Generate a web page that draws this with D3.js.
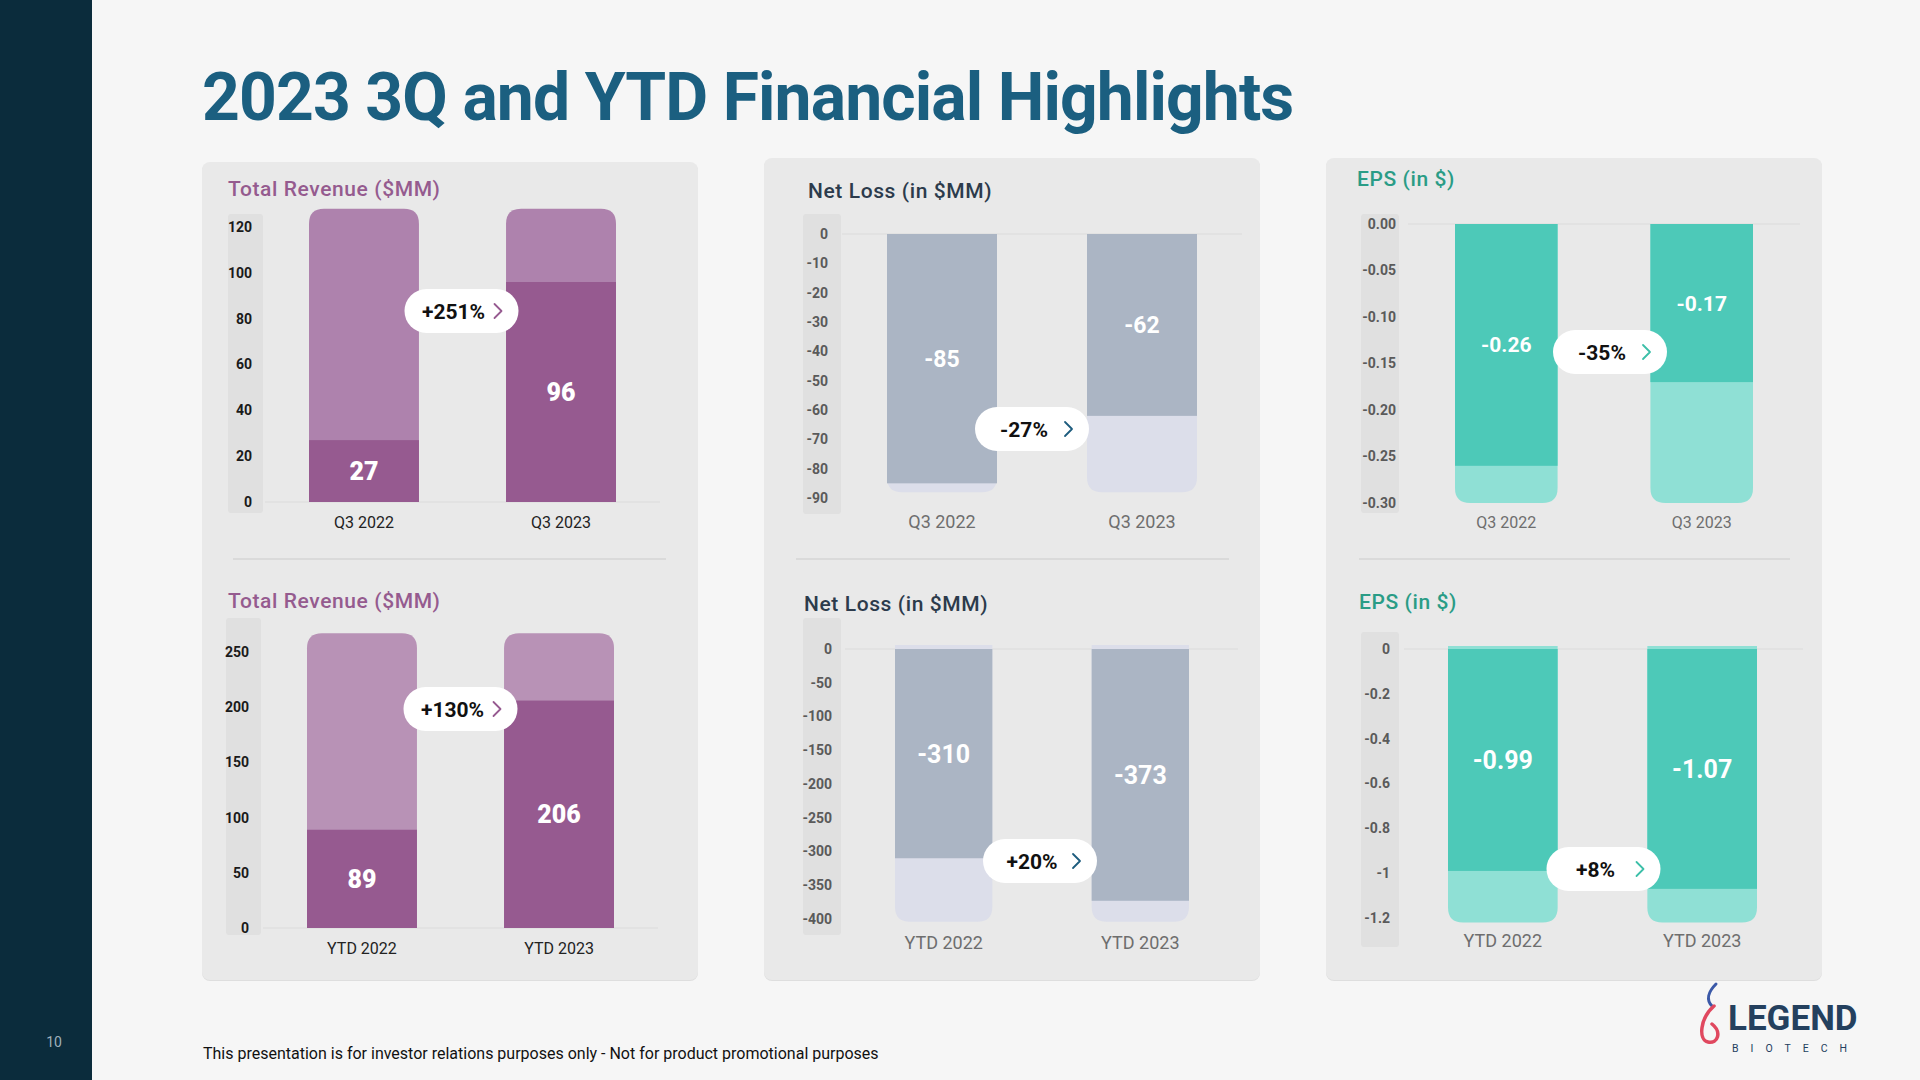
<!DOCTYPE html>
<html>
<head>
<meta charset="utf-8">
<script src="https://cdn.jsdelivr.net/npm/d3@7"></script>
<style>
  html, body { margin: 0; padding: 0; background: #f6f6f6; }
  svg { display: block; font-family: Roboto, "Noto Sans", sans-serif; }
</style>
</head>
<body>
<svg id="chart" width="1920" height="1080"></svg>
<script>
// ---------------- DATA ----------------
const revQCats = ["Q3 2022", "Q3 2023"];
const revQValues = [27, 96];
const revQBg = [128, 128];
const revQTicks = [0, 20, 40, 60, 80, 100, 120];
const revQChange = "+251%";

const revYCats = ["YTD 2022", "YTD 2023"];
const revYValues = [89, 206];
const revYBg = [267, 267];
const revYTicks = [0, 50, 100, 150, 200, 250];
const revYChange = "+130%";

const lossQCats = ["Q3 2022", "Q3 2023"];
const lossQValues = [-85, -62];
const lossQBg = [-88, -88];
const lossQTicks = [0, -10, -20, -30, -40, -50, -60, -70, -80, -90];
const lossQChange = "-27%";

const lossYCats = ["YTD 2022", "YTD 2023"];
const lossYValues = [-310, -373];
const lossYBg = [-404, -404];
const lossYTicks = [0, -50, -100, -150, -200, -250, -300, -350, -400];
const lossYChange = "+20%";

const epsQCats = ["Q3 2022", "Q3 2023"];
const epsQValues = [-0.26, -0.17];
const epsQBg = [-0.30, -0.30];
const epsQTicks = [0, -0.05, -0.10, -0.15, -0.20, -0.25, -0.30];
const epsQChange = "-35%";

const epsYCats = ["YTD 2022", "YTD 2023"];
const epsYValues = [-0.99, -1.07];
const epsYBg = [-1.22, -1.22];
const epsYTicks = [0, -0.2, -0.4, -0.6, -0.8, -1, -1.2];
const epsYChange = "+8%";

// ---------------- STYLE / LAYOUT ----------------
const PURPLE = "#965a90", PURPLE_BG1 = "#ae82ad", PURPLE_BG2 = "#b892b6";
const SLATE = "#abb5c4", SLATE_BG = "#dcdeea";
const TEAL = "#4dc9b8", TEAL_BG = "#8fe0d5";

const svg = d3.select("#chart");

// background + sidebar
svg.append("rect").attr("width", 1920).attr("height", 1080).attr("fill", "#f6f6f6");
svg.append("rect").attr("width", 92).attr("height", 1080).attr("fill", "#0b2c3c");
svg.append("text").attr("x", 54).attr("y", 1047).attr("text-anchor", "middle")
  .attr("font-size", 14).attr("fill", "#9fb0bb").text("10");

// title
svg.append("text").attr("x", 202).attr("y", 120)
  .attr("font-size", 66).attr("font-weight", 700).attr("fill", "#1b5f80")
  .attr("letter-spacing", -0.9)
  .text("2023 3Q and YTD Financial Highlights");

// panels
const panels = [
  {x: 202, y: 162, w: 496, h: 818, line: [233, 666]},
  {x: 764, y: 158, w: 496, h: 822, line: [796, 1229]},
  {x: 1326, y: 158, w: 496, h: 822, line: [1359, 1790]}
];
panels.forEach(p => {
  svg.append("rect").attr("x", p.x).attr("y", p.y + 1).attr("width", p.w).attr("height", p.h)
    .attr("rx", 8).attr("fill", "#dedede");
  svg.append("rect").attr("x", p.x).attr("y", p.y).attr("width", p.w).attr("height", p.h)
    .attr("rx", 8).attr("fill", "#e9e9e9");
  svg.append("line").attr("x1", p.line[0]).attr("x2", p.line[1]).attr("y1", 559).attr("y2", 559)
    .attr("stroke", "#d4d4d4").attr("stroke-width", 1.5);
});

function barPath(x, w, yBase, yEnd, r) {
  const dir = yEnd < yBase ? 1 : -1; // 1: rounded end is above
  return `M${x},${yBase} L${x},${yEnd + dir * r} Q${x},${yEnd} ${x + r},${yEnd} ` +
         `L${x + w - r},${yEnd} Q${x + w},${yEnd} ${x + w},${yEnd + dir * r} L${x + w},${yBase} Z`;
}

function drawChart(c) {
  const g = svg.append("g");
  const y = d3.scaleLinear().domain(c.yDomain).range(c.yRange);
  const x = d3.scaleBand().domain(c.cats).range(c.xRange).paddingInner(c.padIn).paddingOuter(0);
  const bw = x.bandwidth();

  // title
  g.append("text").attr("x", c.titleX).attr("y", c.titleY)
    .attr("font-size", 21).attr("font-weight", 500).attr("letter-spacing", 0.6)
    .attr("fill", c.titleColor).text(c.title);

  // y band
  g.append("rect").attr("x", c.band[0]).attr("y", c.band[2])
    .attr("width", c.band[1] - c.band[0]).attr("height", c.band[3] - c.band[2])
    .attr("rx", 3).attr("fill", "#e0e0e0");

  // axis
  const axis = d3.axisLeft(y).tickValues(c.ticks).tickFormat(c.fmt).tickSize(0).tickPadding(0);
  const ag = g.append("g").attr("transform", `translate(${c.tickX},0)`).call(axis);
  ag.select(".domain").remove();
  ag.selectAll("text").attr("font-size", 14).attr("font-weight", 700)
    .attr("fill", c.tickColor).attr("font-family", "Roboto, sans-serif");

  // zero line
  g.append("line").attr("x1", c.grid[0]).attr("x2", c.grid[1])
    .attr("y1", y(0)).attr("y2", y(0)).attr("stroke", "#dcdcdc").attr("stroke-width", 1.2);

  // background bars
  g.selectAll(".bg").data(c.cats).join("path")
    .attr("d", (d, i) => barPath(x(d), bw, y(c.bgBase), y(c.bg[i]), 15))
    .attr("fill", c.bgColor);

  // foreground bars
  g.selectAll(".fg").data(c.cats).join("rect")
    .attr("x", d => x(d)).attr("width", bw)
    .attr("y", (d, i) => Math.min(y(0), y(c.values[i])))
    .attr("height", (d, i) => Math.abs(y(c.values[i]) - y(0)))
    .attr("fill", c.fgColor);

  // value labels
  g.selectAll(".lbl").data(c.cats).join("text")
    .attr("x", d => x(d) + bw / 2)
    .attr("y", (d, i) => (y(0) + y(c.values[i])) / 2)
    .attr("dy", "0.36em").attr("text-anchor", "middle")
    .attr("font-size", c.labelSize).attr("font-weight", c.labelWeight).attr("fill", "#ffffff")
    .text((d, i) => c.labelFmt(c.values[i]));

  // x labels
  g.selectAll(".xl").data(c.cats).join("text")
    .attr("x", d => x(d) + bw / 2).attr("y", c.xLabelY).attr("text-anchor", "middle")
    .attr("font-size", c.xLabelSize).attr("fill", c.xLabelColor).text(d => d);

  // change pill
  const pw = 114, ph = 44;
  const pcx = (x(c.cats[0]) + x(c.cats[1]) + bw) / 2 + c.pillDx;
  const px = pcx - pw / 2, py = c.pillY - ph / 2;
  g.append("rect").attr("x", px).attr("y", py).attr("width", pw).attr("height", ph)
    .attr("rx", ph / 2).attr("fill", "#ffffff");
  g.append("text").attr("x", pcx - 8).attr("y", c.pillY).attr("dy", "0.36em")
    .attr("text-anchor", "middle").attr("font-size", 21).attr("font-weight", 700)
    .attr("fill", "#111").text(c.change);
  const chx = px + pw - 24;
  g.append("path").attr("d", `M${chx},${c.pillY - 7} L${chx + 7},${c.pillY} L${chx},${c.pillY + 7}`)
    .attr("fill", "none").attr("stroke", c.chevColor).attr("stroke-width", 1.8)
    .attr("stroke-linecap", "round").attr("stroke-linejoin", "round");
}

const f2 = d3.format(".2f");
const intFmt = d => d3.format("d")(d).replace("−", "-");
const f2m = d => f2(d).replace("−", "-");
const genFmt = d => String(d).replace("−", "-");

const charts = [
  { title: "Total Revenue ($MM)", titleColor: "#955b8f", titleX: 228, titleY: 196,
    cats: revQCats, values: revQValues, bg: revQBg, bgBase: 0, ticks: revQTicks, fmt: intFmt,
    yDomain: [0, 120], yRange: [502, 227], xRange: [309, 616], padIn: 0.442,
    band: [228, 263, 214, 513], tickX: 252, tickColor: "#1a1a1a", grid: [265, 660],
    fgColor: PURPLE, bgColor: PURPLE_BG1, labelSize: 25, labelWeight: 900, labelFmt: intFmt,
    xLabelY: 528, xLabelSize: 16, xLabelColor: "#222", pillY: 311, pillDx: -1, change: revQChange, chevColor: PURPLE },
  { title: "Total Revenue ($MM)", titleColor: "#955b8f", titleX: 228, titleY: 608,
    cats: revYCats, values: revYValues, bg: revYBg, bgBase: 0, ticks: revYTicks, fmt: intFmt,
    yDomain: [0, 250], yRange: [928, 652], xRange: [307, 614], padIn: 0.442,
    band: [226, 261, 618, 935], tickX: 249, tickColor: "#1a1a1a", grid: [263, 658],
    fgColor: PURPLE, bgColor: PURPLE_BG2, labelSize: 25, labelWeight: 900, labelFmt: intFmt,
    xLabelY: 954, xLabelSize: 16, xLabelColor: "#222", pillY: 709, pillDx: 0, change: revYChange, chevColor: PURPLE },
  { title: "Net Loss (in $MM)", titleColor: "#2c3b4c", titleX: 808, titleY: 198,
    cats: lossQCats, values: lossQValues, bg: lossQBg, bgBase: 0, ticks: lossQTicks, fmt: intFmt,
    yDomain: [0, -90], yRange: [234, 498], xRange: [887, 1197], padIn: 0.45,
    band: [803, 841, 214, 514], tickX: 828, tickColor: "#5a5a5a", grid: [842, 1242],
    fgColor: SLATE, bgColor: SLATE_BG, labelSize: 23, labelWeight: 700, labelFmt: intFmt,
    xLabelY: 528, xLabelSize: 18, xLabelColor: "#6e6e6e", pillY: 429, pillDx: -10, change: lossQChange, chevColor: "#1d5c7e" },
  { title: "Net Loss (in $MM)", titleColor: "#2c3b4c", titleX: 804, titleY: 611,
    cats: lossYCats, values: lossYValues, bg: lossYBg, bgBase: 6, ticks: lossYTicks, fmt: intFmt,
    yDomain: [0, -400], yRange: [649, 919], xRange: [895, 1189], padIn: 0.505,
    band: [803, 841, 618, 935], tickX: 832, tickColor: "#5a5a5a", grid: [845, 1238],
    fgColor: SLATE, bgColor: SLATE_BG, labelSize: 25, labelWeight: 700, labelFmt: intFmt,
    xLabelY: 949, xLabelSize: 18, xLabelColor: "#6e6e6e", pillY: 861, pillDx: -2, change: lossYChange, chevColor: "#1d5c7e" },
  { title: "EPS (in $)", titleColor: "#2a9c86", titleX: 1357, titleY: 186,
    cats: epsQCats, values: epsQValues, bg: epsQBg, bgBase: 0, ticks: epsQTicks, fmt: f2m,
    yDomain: [0, -0.30], yRange: [224, 503], xRange: [1455, 1753], padIn: 0.475,
    band: [1361, 1399, 214, 513], tickX: 1396, tickColor: "#5a5a5a", grid: [1408, 1800],
    fgColor: TEAL, bgColor: TEAL_BG, labelSize: 21, labelWeight: 700, labelFmt: f2m,
    xLabelY: 528, xLabelSize: 16, xLabelColor: "#6e6e6e", pillY: 352, pillDx: 6, change: epsQChange, chevColor: "#3cbfa8" },
  { title: "EPS (in $)", titleColor: "#2a9c86", titleX: 1359, titleY: 609,
    cats: epsYCats, values: epsYValues, bg: epsYBg, bgBase: 0.013, ticks: epsYTicks, fmt: genFmt,
    yDomain: [0, -1.2], yRange: [649, 918], xRange: [1448, 1757], padIn: 0.45,
    band: [1361, 1399, 632, 947], tickX: 1390, tickColor: "#5a5a5a", grid: [1404, 1803],
    fgColor: TEAL, bgColor: TEAL_BG, labelSize: 25, labelWeight: 700, labelFmt: f2m,
    xLabelY: 947, xLabelSize: 18, xLabelColor: "#6e6e6e", pillY: 869, pillDx: 1, change: epsYChange, chevColor: "#3cbfa8" }
];
charts.forEach(drawChart);

// footer
svg.append("text").attr("x", 203).attr("y", 1059).attr("font-size", 16).attr("fill", "#111")
  .text("This presentation is for investor relations purposes only - Not for product promotional purposes");

// logo
const logo = svg.append("g");
logo.append("path").attr("d", "M1716,984 C1708,992 1706,1000 1712,1006")
  .attr("fill", "none").attr("stroke", "#3b59a8").attr("stroke-width", 3).attr("stroke-linecap", "round");
logo.append("path").attr("d", "M1714,1006 C1700,1018 1698,1040 1708,1042 C1718,1044 1722,1032 1712,1024")
  .attr("fill", "none").attr("stroke", "#e0485f").attr("stroke-width", 3.5).attr("stroke-linecap", "round");
logo.append("text").attr("x", 1728).attr("y", 1030).attr("font-size", 35).attr("font-weight", 700)
  .attr("fill", "#24405e").attr("letter-spacing", 0).text("LEGEND");
logo.append("text").attr("x", 1732).attr("y", 1052).attr("font-size", 10.5)
  .attr("fill", "#24405e").attr("letter-spacing", 12).text("BIOTECH");
</script>
</body>
</html>
